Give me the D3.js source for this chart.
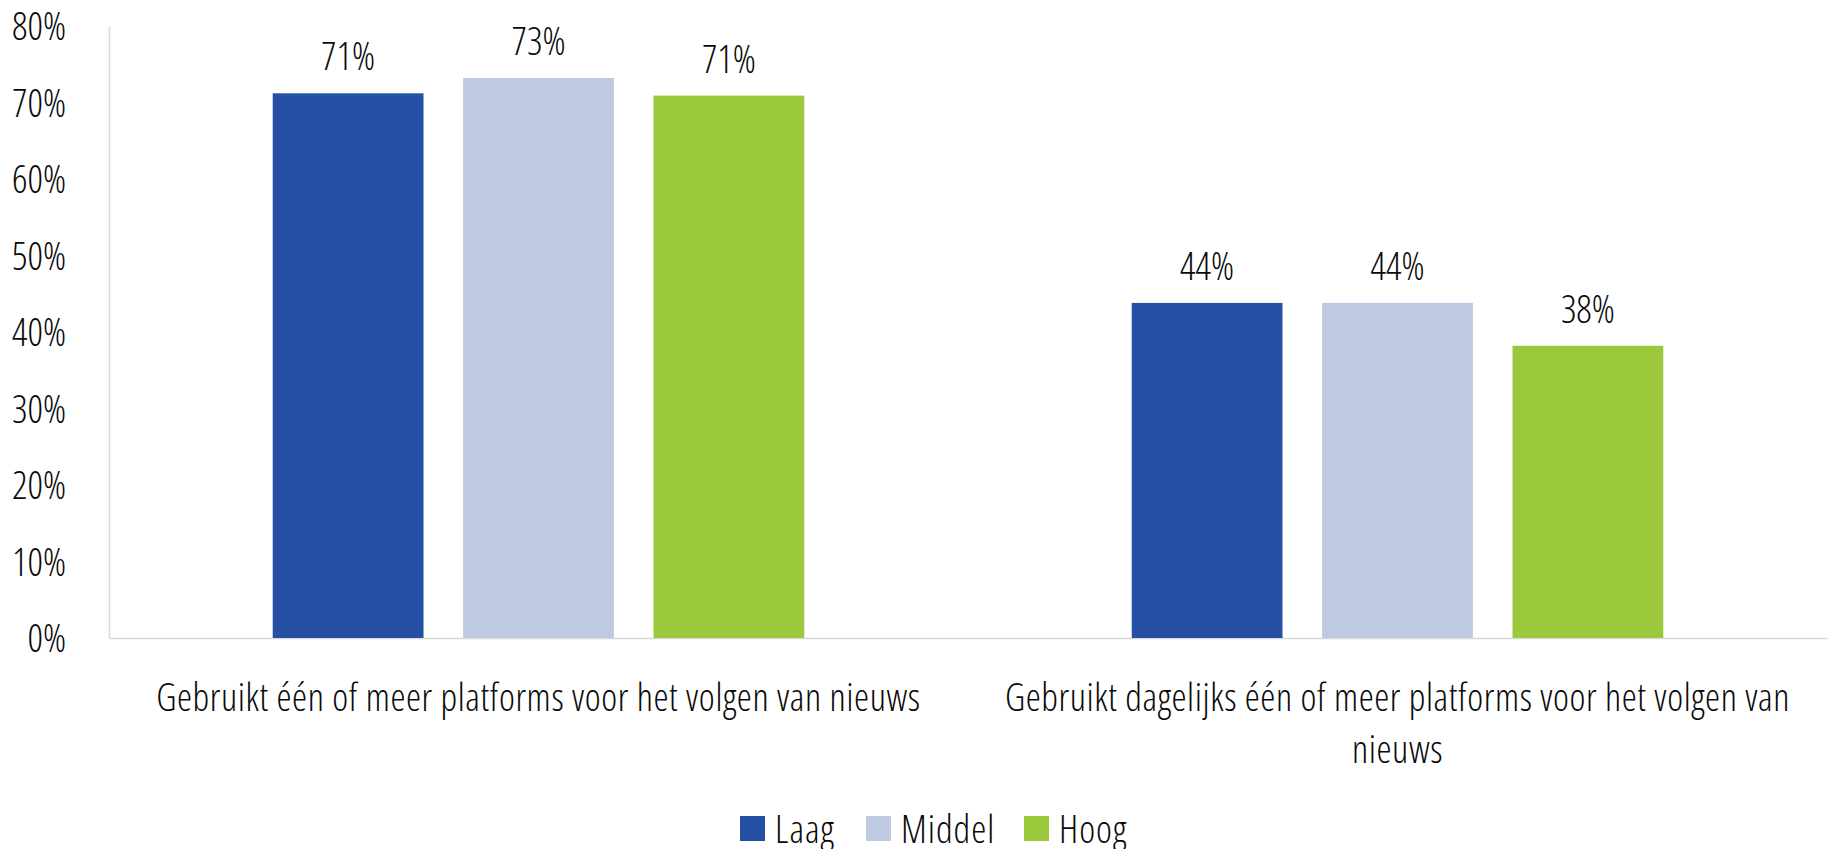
<!DOCTYPE html>
<html><head><meta charset="utf-8">
<script src="https://cdn.jsdelivr.net/npm/d3@7"></script>
<style>
body{margin:0;background:#fff;}
svg text{font-family:"Open Sans",sans-serif;font-weight:300;font-stretch:75%;fill:#0a0a0a;}
svg text.cat{letter-spacing:0.6px;}
svg text.leg{letter-spacing:1px;}
</style></head>
<body><svg id="c" width="1833" height="849"></svg>
<script>
const categories = ["Gebruikt één of meer platforms voor het volgen van nieuws", "Gebruikt dagelijks één of meer platforms voor het volgen van nieuws"];
const categoryLines = [["Gebruikt één of meer platforms voor het volgen van nieuws"], ["Gebruikt dagelijks één of meer platforms voor het volgen van", "nieuws"]];
const seriesNames = ["Laag", "Middel", "Hoog"];
const laag = [71.2, 43.8];
const middel = [73.2, 43.8];
const hoog = [70.9, 38.2];
const valueLabels = [["71%", "73%", "71%"], ["44%", "44%", "38%"]];
const yTicks = [0, 10, 20, 30, 40, 50, 60, 70, 80];
const colors = ["#2550A3", "#BECAE2", "#9CC93B"];

const svg = d3.select("#c");
const m = {l:109, r:6, t:26, b:211};
const W = 1833, H = 849;
const FS = "38px";
const x0 = d3.scaleBand().domain(categories).range([m.l, W - m.r]);
const x1 = d3.scaleBand().domain(seriesNames).range([0, x0.bandwidth()]).paddingInner(0.208).paddingOuter(0.86);
const y = d3.scaleLinear().domain([0, 80]).range([H - m.b, m.t]);
const series = [laag, middel, hoog];

// axes
const yAxis = svg.append("g").attr("transform", `translate(${m.l},0)`)
  .call(d3.axisLeft(y).tickValues(yTicks).tickFormat(d => d + "%").tickSize(0).tickPadding(43));
yAxis.select(".domain").attr("stroke", "#D9D9D9").attr("stroke-width", 1.5);
yAxis.selectAll("text").style("font-size", FS).attr("fill", "#0a0a0a").attr("dy", "0.36em");

const xAxis = svg.append("g").attr("transform", `translate(0,${y(0)})`)
  .call(d3.axisBottom(x0).tickSize(0).tickFormat(""));
xAxis.select(".domain").attr("stroke", "#D9D9D9").attr("stroke-width", 1.5);

// bars
categories.forEach((c, ci) => {
  const g = svg.append("g").attr("transform", `translate(${x0(c)},0)`);
  seriesNames.forEach((s, si) => {
    const v = series[si][ci];
    g.append("rect").attr("x", x1(s)).attr("width", x1.bandwidth())
      .attr("y", y(v)).attr("height", y(0) - y(v)).attr("fill", colors[si]);
    g.append("text").attr("x", x1(s) + x1.bandwidth() / 2).attr("y", y(v) - 23)
      .attr("text-anchor", "middle").style("font-size", FS).text(valueLabels[ci][si]);
  });
  const t = svg.append("text").attr("class", "cat").attr("text-anchor", "middle").style("font-size", FS)
    .attr("x", x0(c) + x0.bandwidth() / 2).attr("y", 711);
  categoryLines[ci].forEach((ln, li) => t.append("tspan").attr("x", x0(c) + x0.bandwidth() / 2).attr("dy", li ? 52 : 0).text(ln));
});

// legend
const legX = [740, 866, 1024];
seriesNames.forEach((s, i) => {
  svg.append("rect").attr("x", legX[i]).attr("y", 816).attr("width", 25).attr("height", 25).attr("fill", colors[i]);
  svg.append("text").attr("class", "leg").attr("x", legX[i] + 35).attr("y", 843).style("font-size", FS).text(s);
});
</script></body></html>
